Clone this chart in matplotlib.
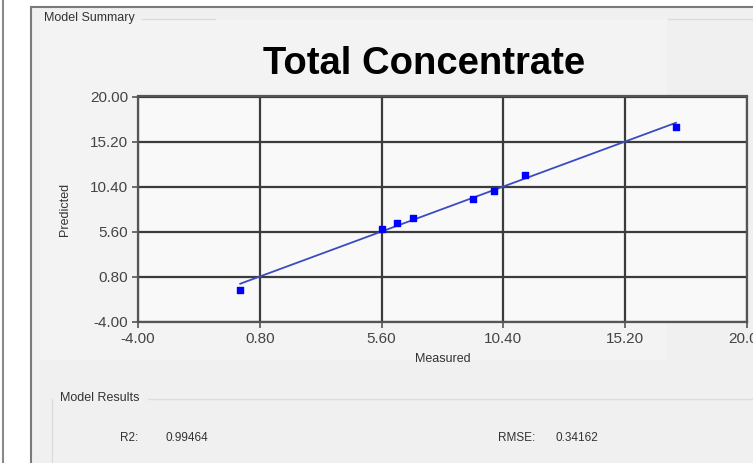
import numpy as np
import matplotlib.pyplot as plt
from matplotlib.patches import Rectangle
from matplotlib.lines import Line2D

# values
measured = [0.03, 5.62, 6.21, 6.83, 9.21, 10.03, 11.24, 17.20]
predicted = [-0.60, 5.90, 6.54, 7.01, 9.12, 9.90, 11.61, 16.79]
ticks = [-4.00, 0.80, 5.60, 10.40, 15.20, 20.00]
r2_value = "0.99464"
rmse_value = "0.34162"

plt.rcParams['font.family'] = ['Liberation Sans', 'DejaVu Sans']

W, H = 753, 463
fig = plt.figure(figsize=(W / 100, H / 100), dpi=100, facecolor="white")

def fx(px):
    return px / W

def fy(py):
    return 1 - py / H

# window panels
fig.patches.append(Rectangle((fx(31), 0), 1 - fx(31), fy(7), transform=fig.transFigure,
                             facecolor="#f0f0f0", edgecolor="none", zorder=-2))
fig.patches.append(Rectangle((fx(40), fy(360)), fx(667 - 40), fy(20) - fy(360), transform=fig.transFigure,
                             facecolor="#f3f3f3", edgecolor="none", zorder=-1))
fig.add_artist(Line2D([fx(2.5), fx(2.5)], [0, 1], transform=fig.transFigure, color="#8a8a8a", lw=1.5))
fig.add_artist(Line2D([fx(31), 1], [fy(7), fy(7)], transform=fig.transFigure, color="#7a7a7a", lw=1.5))
fig.add_artist(Line2D([fx(31), fx(31)], [0, fy(7)], transform=fig.transFigure, color="#7a7a7a", lw=1.5))
fig.add_artist(Line2D([fx(142), fx(215)], [fy(19), fy(19)], transform=fig.transFigure, color="#dcdcdc", lw=1))
fig.add_artist(Line2D([fx(668), 1], [fy(19), fy(19)], transform=fig.transFigure, color="#dcdcdc", lw=1))
fig.add_artist(Line2D([fx(148), 1], [fy(399), fy(399)], transform=fig.transFigure, color="#dcdcdc", lw=1))
fig.add_artist(Line2D([fx(52), fx(52)], [0, fy(399)], transform=fig.transFigure, color="#dcdcdc", lw=1))

fig.text(fx(44), fy(18), "Model Summary", fontsize=9, color="#333333", va="center", ha="left")
fig.text(fx(424), fy(64), "Total Concentrate", fontsize=27.5, fontweight="bold",
         color="black", ha="center", va="center")
fig.text(fx(60), fy(398), "Model Results", fontsize=9, color="#333333", va="center", ha="left")
fig.text(fx(120), fy(438), "R2:", fontsize=8.5, color="#333333", va="center", ha="left")
fig.text(fx(165), fy(438), r2_value, fontsize=8.5, color="#333333", va="center", ha="left")
fig.text(fx(498), fy(438), "RMSE:", fontsize=8.5, color="#333333", va="center", ha="left")
fig.text(fx(556), fy(438), rmse_value, fontsize=8.5, color="#333333", va="center", ha="left")

ax = fig.add_axes([fx(138), fy(321.5), fx(747 - 138), fy(96.5) - fy(321.5)])
ax.set_zorder(2)
ax.set_facecolor("#f9f9f9")

# 1:1 line across the measured range
lo, hi = min(measured), max(measured)
ax.plot([lo, hi], [lo, hi], color="#3a4cc0", lw=1.3, zorder=3)
ax.scatter(measured, predicted, marker="s", s=14, color="#0000ff", zorder=4)

ax.set_xlim(ticks[0], ticks[-1])
ax.set_ylim(ticks[0], ticks[-1])
ax.set_xticks(ticks)
ax.set_yticks(ticks)
ax.set_xticklabels([f"{t:.2f}" for t in ticks])
ax.set_yticklabels([f"{t:.2f}" for t in ticks])
ax.grid(True, color="#3c3c3c", lw=1.6)
ax.set_axisbelow(True)
for s in ax.spines.values():
    s.set_color("#555555")
    s.set_linewidth(1.6)
ax.tick_params(axis="both", length=4, width=1.2, color="#555555", labelsize=11,
               labelcolor="#444444")
ax.tick_params(axis="x", pad=3.5)
ax.tick_params(axis="y", pad=3)
ax.set_xlabel("Measured", fontsize=9, color="#333333", labelpad=5)
ax.set_ylabel("Predicted", fontsize=9, color="#333333", labelpad=14)

fig.savefig("out.png", dpi=100, facecolor=fig.get_facecolor())
